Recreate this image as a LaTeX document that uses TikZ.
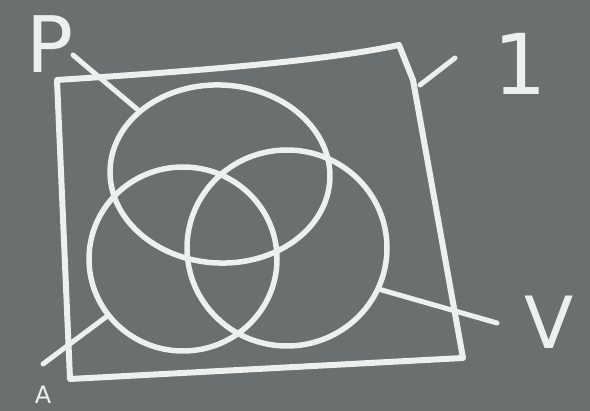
\documentclass[tikz,border=0pt]{standalone}
\usepackage{fontspec}
\newfontfamily\chalkfont{DejaVu Sans}
\usetikzlibrary{shapes.geometric}
\definecolor{board}{RGB}{106,112,112}
\definecolor{chalk}{RGB}{236,240,238}
\begin{document}
\begin{tikzpicture}[x=1pt,y=-1pt,
  chalkline/.style={draw=chalk,line width=5.5pt,line cap=round,line join=round},
  setring/.style={ellipse,draw=chalk,line width=5.5pt,inner sep=0pt},
  lbl/.style={text=chalk,inner sep=0pt,font=\chalkfont\fontsize{#1}{#1}\selectfont},
  lbl/.default=76]
\fill[board] (0,0) rectangle (590,411);
\useasboundingbox (0,0) rectangle (590,411);

% universe box
\coordinate (tl) at (57,80);
\coordinate (tr) at (399,45);
\coordinate (rk) at (413,80);
\coordinate (br) at (463,358);
\coordinate (bl) at (70,379);
\draw[chalkline,line width=6pt] (tl) .. controls (180,72) and (320,62) .. (tr)
  -- (rk) -- (br) -- (bl) -- cycle;

% sets
\node[setring,minimum width=220pt,minimum height=178pt,rotate=-3] (cP) at (220,174) {};
\node[setring,minimum width=188pt,minimum height=184pt] (cA) at (183,259) {};
\node[setring,minimum width=200pt,minimum height=196pt] (cV) at (287,248) {};

% labels
\node[lbl=78] (lP) at (50,44) {P};
\node[lbl=84] (l1) at (520,64) {1};
\node[lbl=72] (lV) at (549,322) {V};
\node[lbl=24,anchor=base] (lA) at (43,404) {A};

% pointers
\coordinate (pP) at (73,55);
\coordinate (p1a) at (420,85);
\coordinate (p1b) at (455,58);
\coordinate (pV) at (497,323);
\coordinate (pA) at (43,364);
\draw[chalkline,line width=5pt] (pP) -- (cP.145);
\draw[chalkline,line width=5pt] (p1a) -- (p1b);
\draw[chalkline,line width=5pt] (cV.-24) -- (pV);
\draw[chalkline,line width=5pt] (cA.217) -- (pA);
\end{tikzpicture}
\end{document}
